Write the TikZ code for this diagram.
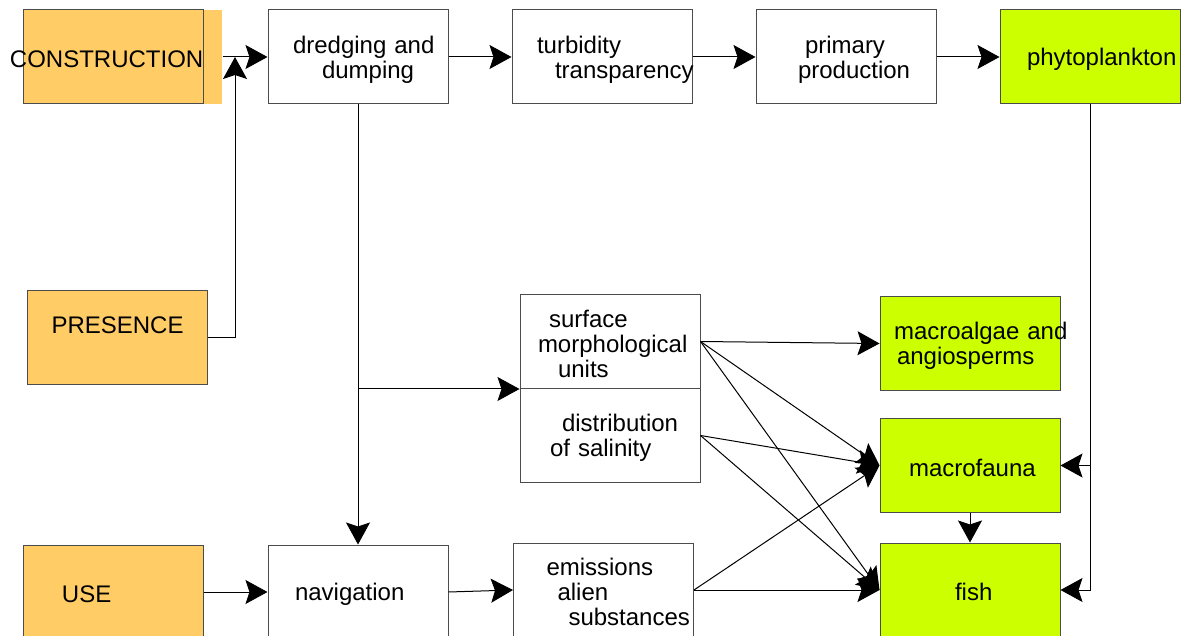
\documentclass[tikz,border=0pt]{standalone}
\usepackage{fontspec}
\setmainfont{Liberation Sans}
\usetikzlibrary{arrows.meta,positioning}
\definecolor{actfill}{HTML}{FFCC66}
\definecolor{biofill}{HTML}{CCFF00}

\begin{document}
\begin{tikzpicture}[x=0.5pt,y=-0.5pt,>={Stealth[length=11pt,width=12pt,inset=2pt]},line width=0.5pt,node distance=31.5pt,
  box/.style={draw=black!70,minimum width=90pt,minimum height=47pt,text width=90pt,inner sep=0pt,align=left,
    font=\fontsize{12}{12.5}\selectfont,execute at begin node={\hyphenpenalty=10000\relax\rule{0pt}{11pt}}},
  activity/.style={box,fill=actfill},
  biota/.style={box,fill=biofill}]
  \useasboundingbox (0,0) rectangle (1184,636);
  % activities
  \node[fill=actfill,minimum width=9.5pt,minimum height=47pt,inner sep=0pt] (tab) at (212.5,57) {};
  \node[activity] (constr) at (113,57) {\hspace*{-6.5pt}CONSTRUCTION};
  \node[activity] (pres) at (117.5,338) {\hspace*{12pt}PRESENCE\rule[-15.5pt]{0pt}{0pt}};
  \node[activity] (use) at (113,592) {\hspace*{19.5pt}USE};
  % pressures and effects
  \node[box] (dredge) at (358,57) {\hspace*{12.5pt}dredging and\\\hspace*{27pt}dumping};
  \node[box] [right=of dredge] (turb) {\hspace*{12.5pt}turbidity\\\hspace*{21.5pt}transparency};
  \node[box] [right=of turb] (prim) {\hspace*{24.5pt}primary\\\hspace*{21pt}production};
  \node[biota] [right=of prim] (phyto) {\hspace*{13.5pt}phytoplankton};
  \node[box] (surf) at (610,341.5) {\hspace*{14.5pt}surface\\\hspace*{9pt}morphological\\\hspace*{19pt}units};
  \node[box] [below=-0.5pt of surf] (dist) {\hspace*{21pt}distribution\\\hspace*{15pt}of salinity};
  \node[box] (nav) at (358,592) {\hspace*{13.5pt}navigation};
  \node[box] (emis) at (603.5,590) {\hspace*{16.5pt}emissions\\\hspace*{22pt}alien\\\hspace*{27.5pt}substances};
  % biota
  \node[biota] (algae) at (970,343.5) {\hspace*{7pt}macroalgae~and\\\hspace*{8.5pt}angiosperms};
  \node[biota] (fauna) at (970,465.5) {\hspace*{14.5pt}macrofauna};
  \node[biota] (fish) at (970,590) {\hspace*{37.5pt}fish};
  % connectors
  \coordinate (join) at (235,57);
  \draw[->] (pres.east) -| (join);
  \draw[->] (surf.south west -| dredge.south) -- (surf.south west);
  \draw[->] (phyto.south) |- (fish.east);
  \draw[->] (phyto.south |- fauna.east) -- (fauna.east);
  \path[->]
  (tab.east) edge (dredge.west)
  (dredge) edge (turb)
  (turb) edge (prim)
  (prim) edge (phyto)
  (dredge.south) edge (nav.north)
  (use.east) edge (nav.west)
  (nav.east) edge (emis.west)
  (surf.east) edge (algae.west)
  (surf.east) edge (fauna.west)
  (surf.east) edge (fish.west)
  (dist.east) edge (fauna.west)
  (dist.east) edge (fish.west)
  (emis.east) edge (fauna.west)
  (emis.east) edge (fish.west)
  (fauna.south) edge (fish.north);
\end{tikzpicture}
\end{document}
